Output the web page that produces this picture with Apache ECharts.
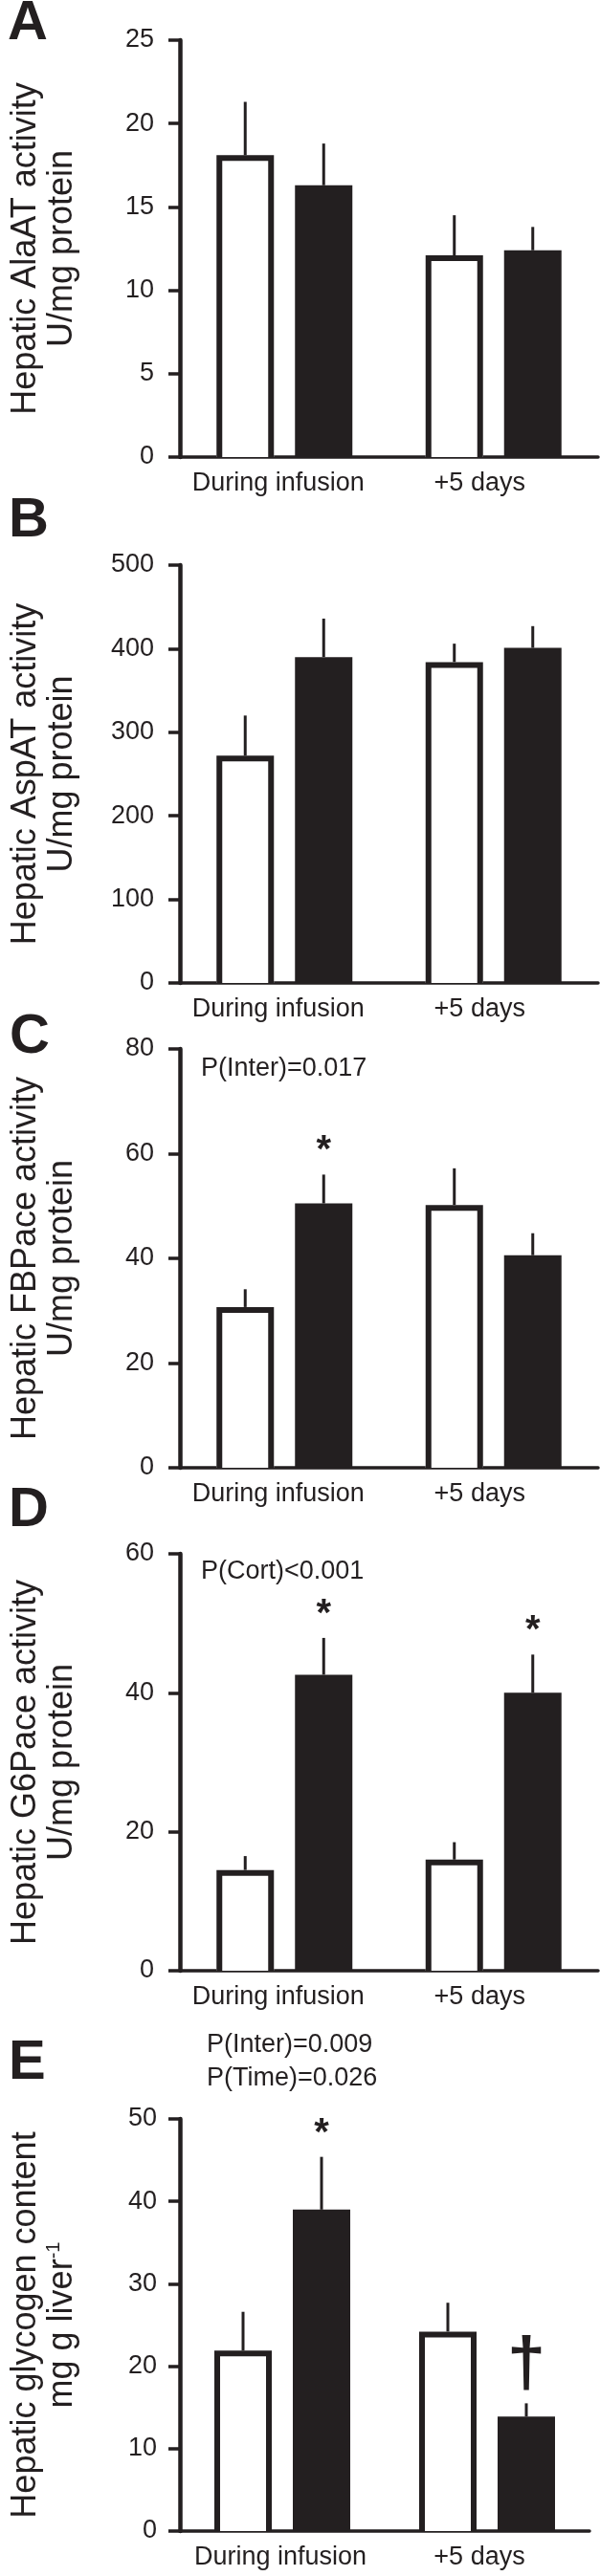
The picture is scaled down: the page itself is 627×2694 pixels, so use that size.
<!DOCTYPE html>
<html>
<head>
<meta charset="utf-8">
<script src="https://cdn.jsdelivr.net/npm/echarts@6/dist/echarts.min.js"></script>
<style>
html,body{margin:0;padding:0;background:#ffffff;}
#chart{width:627px;height:2694px;}
</style>
</head>
<body>
<div id="chart"></div>
<script>
// ---------------- data ----------------
const categories = ['During infusion', '+5 days'];

// Panel A: Hepatic AlaAT activity (U/mg protein)
const alaatControlMean = [18.1, 12.1];
const alaatControlSem  = [3.2, 2.4];
const alaatCortisolMean = [16.3, 12.4];
const alaatCortisolSem  = [2.5, 1.4];
const alaatTicks = [0, 25, 5];

// Panel B: Hepatic AspAT activity (U/mg protein)
const aspatControlMean = [272, 384];
const aspatControlSem  = [48, 22];
const aspatCortisolMean = [390, 401];
const aspatCortisolSem  = [46, 26];
const aspatTicks = [0, 500, 100];

// Panel C: Hepatic FBPace activity (U/mg protein)
const fbpControlMean = [30.7, 50.2];
const fbpControlSem  = [3.4, 7.0];
const fbpCortisolMean = [50.5, 40.6];
const fbpCortisolSem  = [5.5, 4.2];
const fbpTicks = [0, 80, 20];
const fbpCortisolMarks = ['*', ''];

// Panel D: Hepatic G6Pace activity (U/mg protein)
const g6pControlMean = [14.5, 16.0];
const g6pControlSem  = [2.0, 2.5];
const g6pCortisolMean = [42.6, 40.0];
const g6pCortisolSem  = [5.3, 5.5];
const g6pTicks = [0, 60, 20];
const g6pCortisolMarks = ['*', '*'];

// Panel E: Hepatic glycogen content (mg g liver^-1)
const glyControlMean = [21.9, 24.2];
const glyControlSem  = [4.7, 3.5];
const glyCortisolMean = [39.0, 13.9];
const glyCortisolSem  = [6.4, 1.6];
const glyTicks = [0, 50, 10];
const glyCortisolMarks = ['*', '\u2020'];

const panelLetters = ['A', 'B', 'C', 'D', 'E'];
const yTitles = [
  'Hepatic AlaAT activity\nU/mg protein',
  'Hepatic AspAT activity\nU/mg protein',
  'Hepatic FBPace activity\nU/mg protein',
  'Hepatic G6Pace activity\nU/mg protein',
  'Hepatic glycogen content\n{t|mg g liver}{s|-1}'
];
const statTexts = [
  [],
  [],
  ['P(Inter)=0.017'],
  ['P(Cort)<0.001'],
  ['P(Inter)=0.009', 'P(Time)=0.026']
];

// ---------------- styling / layout ----------------
const INK = '#231f20';
const FONT = '"Liberation Sans", Arial, Helvetica, sans-serif';
const BAR_W = 60;
const BAR_BORDER = 6;
const BAR_GAP = 22 / 60;
const BAR_OFFSET = BAR_W * (1 + BAR_GAP) / 2;

const grids = [
  {left: 187, top: 42,   width: 438, height: 436},
  {left: 187, top: 591,  width: 438, height: 437},
  {left: 187, top: 1097, width: 438, height: 438},
  {left: 187, top: 1625, width: 438, height: 436},
  {left: 184, top: 2216, width: 432, height: 431}
];
const letterPos = [[8, -4], [9, 516], [10, 1056], [9, 1551], [9, 2129]];
const statPos = [[], [], [[210, 1104]], [[210, 1630]], [[216, 2125], [216, 2160]]];
const xLabelShift = [[13, 29], [13, 29], [13, 29], [13, 29], [4, 16]];
const yLabelMargin = [27, 27, 27, 27, 24];

const panels = [
  {cm: alaatControlMean, cs: alaatControlSem, km: alaatCortisolMean, ks: alaatCortisolSem, ticks: alaatTicks, marks: null},
  {cm: aspatControlMean, cs: aspatControlSem, km: aspatCortisolMean, ks: aspatCortisolSem, ticks: aspatTicks, marks: null},
  {cm: fbpControlMean, cs: fbpControlSem, km: fbpCortisolMean, ks: fbpCortisolSem, ticks: fbpTicks, marks: fbpCortisolMarks},
  {cm: g6pControlMean, cs: g6pControlSem, km: g6pCortisolMean, ks: g6pCortisolSem, ticks: g6pTicks, marks: g6pCortisolMarks},
  {cm: glyControlMean, cs: glyControlSem, km: glyCortisolMean, ks: glyCortisolSem, ticks: glyTicks, marks: glyCortisolMarks}
];

// error bars (one-sided, upward), open outline of the control bars, significance marks
function errorRender(sign, marks, outline) {
  return function (params, api) {
    const i = api.value(0);
    const mean = api.value(1);
    const top = api.value(2);
    const p0 = api.coord([i, mean]);
    const p1 = api.coord([i, top]);
    const base = api.coord([i, 0]);
    const x = p0[0] + sign * BAR_OFFSET;
    const children = [];
    if (outline) {
      const h = BAR_W / 2 - BAR_BORDER / 2;
      const yt = p0[1] + BAR_BORDER / 2;
      children.push({
        type: 'polyline',
        shape: {points: [[x - h, base[1]], [x - h, yt], [x + h, yt], [x + h, base[1]]]},
        style: {stroke: INK, lineWidth: BAR_BORDER, fill: null, lineJoin: 'miter'}
      });
    }
    children.push({
      type: 'line',
      shape: {x1: x, y1: p0[1], x2: x, y2: p1[1]},
      style: {stroke: INK, lineWidth: 3}
    });
    const m = marks ? marks[params.dataIndex] : '';
    if (m === '*') {
      children.push({
        type: 'text',
        style: {text: '*', x: x, y: p1[1] - 4, align: 'center', verticalAlign: 'bottom',
                font: 'bold 40px ' + FONT, fill: INK}
      });
    } else if (m) {
      children.push({
        type: 'text',
        style: {text: m, x: x, y: p1[1] - 2, align: 'center', verticalAlign: 'bottom',
                font: 'bold 72px ' + FONT, fill: INK}
      });
    }
    return {type: 'group', children: children};
  };
}

const option = {
  backgroundColor: '#ffffff',
  animation: false,
  textStyle: {fontFamily: FONT},
  grid: grids.map(g => Object.assign({containLabel: false}, g)),
  xAxis: panels.map((p, k) => ({
    type: 'category',
    gridIndex: k,
    data: categories,
    axisLine: {lineStyle: {color: INK, width: 3.5}},
    axisTick: {show: false},
    splitLine: {show: false},
    axisLabel: {
      interval: 0,
      margin: 14,
      color: INK,
      fontSize: 27,
      fontFamily: FONT,
      formatter: (v, idx) => '{l' + idx + '|' + v + '}',
      rich: {
        l0: {fontSize: 27, fontFamily: FONT, color: INK, padding: [0, xLabelShift[k][0], 0, 0]},
        l1: {fontSize: 27, fontFamily: FONT, color: INK, padding: [0, xLabelShift[k][1], 0, 0]}
      }
    }
  })),
  yAxis: panels.map((p, k) => ({
    type: 'value',
    gridIndex: k,
    min: p.ticks[0],
    max: p.ticks[1],
    interval: p.ticks[2],
    name: yTitles[k],
    nameLocation: 'middle',
    nameRotate: 90,
    nameGap: 104,
    nameTextStyle: {
      fontSize: 36, lineHeight: 38, color: INK, fontFamily: FONT, align: 'center',
      rich: {
        t: {fontSize: 36, lineHeight: 38, color: INK, fontFamily: FONT},
        s: {fontSize: 20, lineHeight: 20, color: INK, fontFamily: FONT, verticalAlign: 'top'}
      }
    },
    axisLine: {show: true, lineStyle: {color: INK, width: 4.5}},
    axisTick: {show: true, inside: false, length: 12, lineStyle: {color: INK, width: 3.5}},
    splitLine: {show: false},
    axisLabel: {margin: yLabelMargin[k], color: INK, fontSize: 27, fontFamily: FONT}
  })),
  series: [],
  graphic: []
};

panels.forEach((p, k) => {
  option.series.push({
    name: 'Control', type: 'bar', xAxisIndex: k, yAxisIndex: k,
    data: p.cm, barWidth: BAR_W, barGap: (BAR_GAP * 100).toFixed(2) + '%',
    itemStyle: {color: '#ffffff', borderWidth: 0},
    z: 2
  });
  option.series.push({
    name: 'Cortisol', type: 'bar', xAxisIndex: k, yAxisIndex: k,
    data: p.km, barWidth: BAR_W, barGap: (BAR_GAP * 100).toFixed(2) + '%',
    itemStyle: {color: INK, borderWidth: 0},
    z: 2
  });
  option.series.push({
    type: 'custom', xAxisIndex: k, yAxisIndex: k, z: 4,
    renderItem: errorRender(-1, null, true),
    data: p.cm.map((m, i) => [i, m, m + p.cs[i]])
  });
  option.series.push({
    type: 'custom', xAxisIndex: k, yAxisIndex: k, z: 4,
    renderItem: errorRender(1, p.marks, false),
    data: p.km.map((m, i) => [i, m, m + p.ks[i]])
  });
  option.graphic.push({
    type: 'text', left: letterPos[k][0], top: letterPos[k][1],
    style: {text: panelLetters[k], font: 'bold 58px ' + FONT, fill: INK}
  });
  statTexts[k].forEach((t, j) => {
    option.graphic.push({
      type: 'text', left: statPos[k][j][0], top: statPos[k][j][1],
      style: {text: t, font: '27px ' + FONT, fill: INK}
    });
  });
});

const chart = echarts.init(document.getElementById('chart'), null, {renderer: 'canvas'});
chart.setOption(option);
</script>
</body>
</html>
